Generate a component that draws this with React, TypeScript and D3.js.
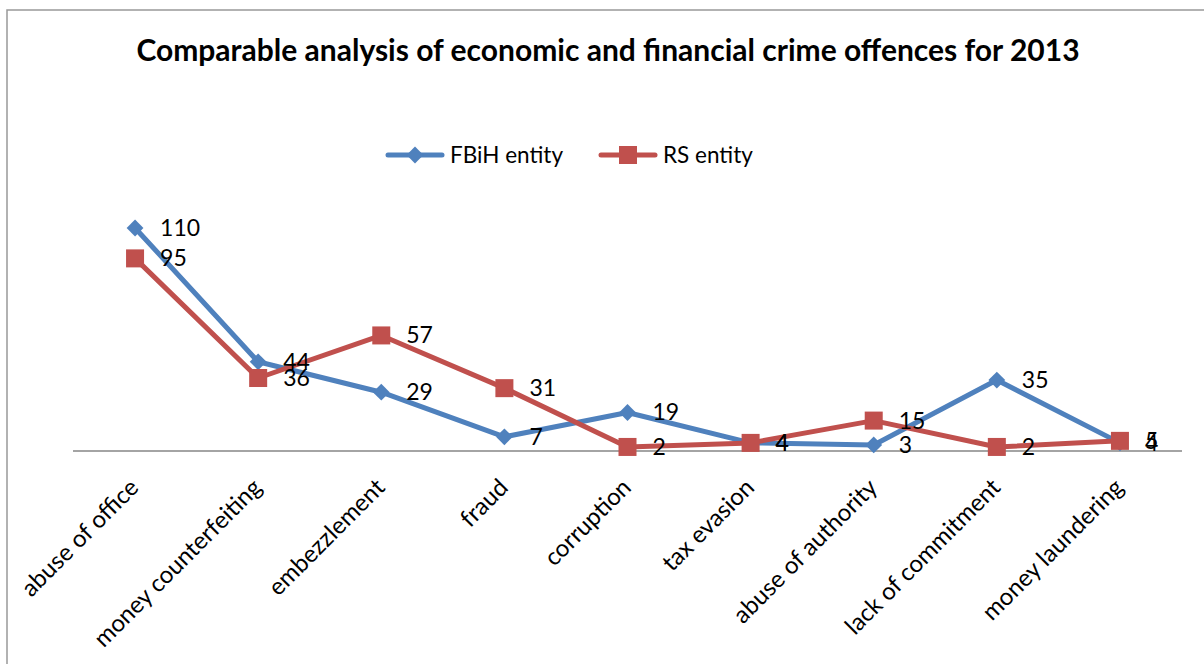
import React, { useEffect, useRef } from "react";
import * as d3 from "d3";

const categories = [
  "abuse of office",
  "money counterfeiting",
  "embezzlement",
  "fraud",
  "corruption",
  "tax evasion",
  "abuse of authority",
  "lack of commitment",
  "money laundering",
];
const fbihValues = [110, 44, 29, 7, 19, 4, 3, 35, 4];
const rsValues = [95, 36, 57, 31, 2, 4, 15, 2, 5];
const seriesNames = ["FBiH entity", "RS entity"];
const titleText = "Comparable analysis of economic and financial crime offences for 2013";

const BLUE = "#4F81BD";
const RED = "#C0504D";
const FONT = "Lato, 'Open Sans', sans-serif";

export default function App() {
  const ref = useRef<SVGSVGElement | null>(null);

  useEffect(() => {
    const svg = d3.select(ref.current);
    svg.selectAll("*").remove();

    const W = 1204, H = 664;
    svg.append("rect").attr("x", 0).attr("y", 0).attr("width", W).attr("height", H).attr("fill", "#fff");
    svg.append("rect").attr("x", 7).attr("y", 10).attr("width", W + 20).attr("height", H + 20)
      .attr("fill", "none").attr("stroke", "#999").attr("stroke-width", 1.5);

    svg.append("text").attr("x", 608).attr("y", 61).attr("text-anchor", "middle")
      .attr("font-family", FONT).attr("font-weight", "bold").attr("font-size", 30).attr("fill", "#000")
      .text(titleText);

    const x = d3.scaleBand<string>().domain(categories).range([73.5, 1181.5]);
    const y = d3.scaleLinear().domain([0, 120]).range([451, 207.7]);
    const cx = (c: string) => (x(c) as number) + x.bandwidth() / 2;

    // axis line
    svg.append("line").attr("x1", 73).attr("x2", 1182).attr("y1", y(0)).attr("y2", y(0))
      .attr("stroke", "#868686").attr("stroke-width", 1.5);

    // category labels
    categories.forEach((c) => {
      const px = cx(c) + 5, py = 489;
      svg.append("text").attr("transform", `translate(${px},${py}) rotate(-45)`)
        .attr("text-anchor", "end").attr("font-family", FONT).attr("font-size", 24).attr("fill", "#000")
        .text(c);
    });

    const line = d3.line<number>().x((_, i) => cx(categories[i])).y((d) => y(d));

    const drawSeries = (vals: number[], color: string, marker: "diamond" | "square") => {
      svg.append("path").attr("d", line(vals)).attr("fill", "none").attr("stroke", color)
        .attr("stroke-width", 5).attr("stroke-linejoin", "round").attr("stroke-linecap", "round");
      vals.forEach((v, i) => {
        const px = cx(categories[i]), py = y(v);
        if (marker === "diamond") {
          svg.append("path").attr("d", d3.symbol(d3.symbolDiamond2, 180)())
            .attr("transform", `translate(${px},${py})`).attr("fill", color);
        } else {
          svg.append("rect").attr("x", px - 9).attr("y", py - 9).attr("width", 18).attr("height", 18).attr("fill", color);
        }
      });
    };

    const drawLabels = (vals: number[]) => {
      vals.forEach((v, i) => {
        svg.append("text").attr("x", cx(categories[i]) + 25).attr("y", y(v) + 8)
          .attr("font-family", FONT).attr("font-size", 23).attr("fill", "#000").text(String(v));
      });
    };

    drawSeries(fbihValues, BLUE, "diamond");
    drawSeries(rsValues, RED, "square");
    drawLabels(fbihValues);
    drawLabels(rsValues);

    // legend
    const legend = [
      { name: seriesNames[0], color: BLUE, marker: "diamond", x0: 388 },
      { name: seriesNames[1], color: RED, marker: "square", x0: 601 },
    ];
    legend.forEach((l) => {
      const ly = 155;
      svg.append("line").attr("x1", l.x0).attr("x2", l.x0 + 54).attr("y1", ly).attr("y2", ly)
        .attr("stroke", l.color).attr("stroke-width", 5).attr("stroke-linecap", "round");
      const mx = l.x0 + 27;
      if (l.marker === "diamond") {
        svg.append("path").attr("d", d3.symbol(d3.symbolDiamond2, 180)())
          .attr("transform", `translate(${mx},${ly})`).attr("fill", l.color);
      } else {
        svg.append("rect").attr("x", mx - 9).attr("y", ly - 9).attr("width", 18).attr("height", 18).attr("fill", l.color);
      }
      svg.append("text").attr("x", l.x0 + 62).attr("y", ly + 8).attr("font-family", FONT)
        .attr("font-size", 22.5).attr("fill", "#000").text(l.name);
    });
  }, []);

  return <svg ref={ref} width={1204} height={664} style={{ display: "block", position: "absolute", left: 0, top: 0 }} />;
}
